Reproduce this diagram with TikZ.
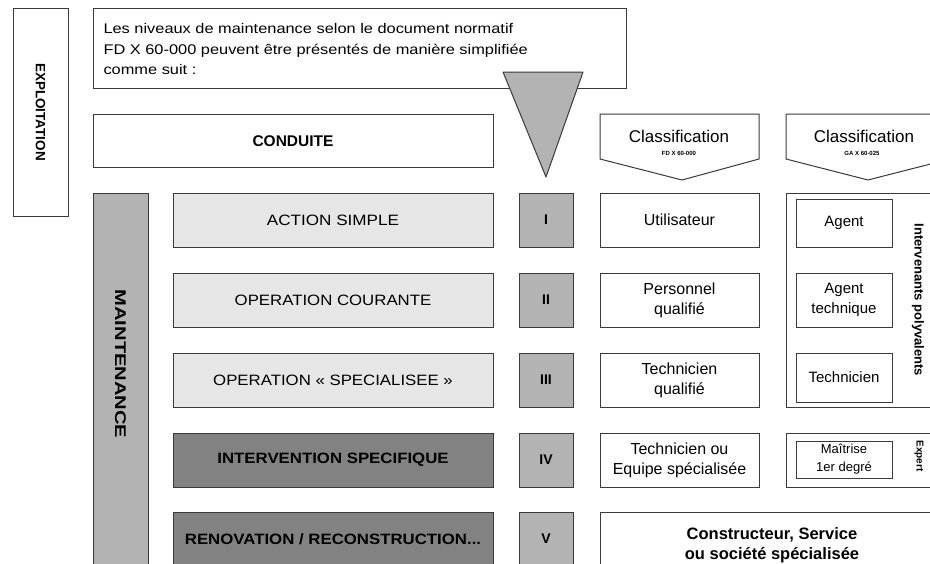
\documentclass[tikz,border=0pt]{standalone}
\usepackage{fontspec}
\setmainfont{Liberation Sans}
\usepackage{graphicx}
\definecolor{lightg}{HTML}{E6E6E6}
\definecolor{midg}{HTML}{B3B3B3}
\definecolor{darkg}{HTML}{828282}
\definecolor{edge}{HTML}{3A3A3A}
\newcommand{\fsz}[2]{\fontsize{#1}{#2}\selectfont}
\newcommand{\wid}[2]{\scalebox{#1}[1]{#2}}
\begin{document}
\begin{tikzpicture}[x=1pt,y=-1pt,
  bx/.style={draw=edge, line width=1pt, inner sep=0pt, outer sep=0pt, align=center},
  whitebox/.style={bx, fill=white},
  lightbox/.style={bx, fill=lightg},
  midbox/.style={bx, fill=midg},
  darkbox/.style={bx, fill=darkg},
  rowtext/.style={font=\fsz{15}{18}},
  rowbold/.style={font={\fsz{15}{18}\bfseries}},
  numtext/.style={font={\fsz{14}{16}\bfseries}},
  fdtext/.style={font=\fsz{16}{20}},
  gatext/.style={font=\fsz{15}{20}}
]
\useasboundingbox (0,0) rectangle (930,563);
\clip (0,0) rectangle (930,563);

% EXPLOITATION
\node[whitebox, minimum width=55pt, minimum height=208pt] (expl) at (40.5,112) {};
\node[rotate=-90, font={\fsz{13.5}{16}\bfseries}] (explt) at (40.5,112) {EXPLOITATION};

% intro text box
\node[whitebox, minimum width=533pt, minimum height=80pt] (intro) at (359.5,48) {};
\node[anchor=base west, font=\fsz{14}{20}] (l1) at (100,33) {\wid{1.17}{Les niveaux de maintenance selon le document normatif}};
\node[anchor=base west, font=\fsz{14}{20}] (l2) at (100,54) {\wid{1.17}{FD X 60-000 peuvent être présentés de manière simplifiée}};
\node[anchor=base west, font=\fsz{14}{20}] (l3) at (100,74) {\wid{1.17}{comme suit :}};

% CONDUITE
\node[whitebox, minimum width=400pt, minimum height=53pt, font={\fsz{15.5}{18}\bfseries}] (cond) at (293,141) {CONDUITE};

% funnel triangle
\draw[draw=edge, line width=1pt, fill=midg, line join=round] (503,72) -- (583,72) -- (546,177) -- cycle;

% MAINTENANCE bar
\node[midbox, minimum width=55pt, minimum height=380pt] (maint) at (120.5,383) {};
\node[rotate=-90, font={\fsz{15.5}{18}\bfseries}] (maintt) at (120.5,364) {\wid{1.3}{MAINTENANCE}};

% level rows
\node[lightbox, minimum width=320pt, minimum height=54pt, rowtext] (r1) at (333,220) {\wid{1.14}{ACTION SIMPLE}};
\node[lightbox, minimum width=320pt, minimum height=54pt, rowtext] (r2) at (333,300) {\wid{1.12}{OPERATION COURANTE}};
\node[lightbox, minimum width=320pt, minimum height=54pt, rowtext] (r3) at (333,380) {\wid{1.12}{OPERATION « SPECIALISEE »}};
\node[darkbox, minimum width=320pt, minimum height=54pt, rowbold] (r4) at (333,460) {\wid{1.12}{INTERVENTION SPECIFIQUE}};
\node[darkbox, minimum width=320pt, minimum height=54pt, rowbold] (r5) at (333,539) {\wid{1.12}{RENOVATION / RECONSTRUCTION...}};

% roman numerals
\node[midbox, minimum width=54pt, minimum height=54pt, numtext] (n1) at (546,220) {I};
\node[midbox, minimum width=54pt, minimum height=54pt, numtext] (n2) at (546,300) {II};
\node[midbox, minimum width=54pt, minimum height=54pt, numtext] (n3) at (546,380) {III};
\node[midbox, minimum width=54pt, minimum height=54pt, numtext] (n4) at (546,460) {IV};
\node[midbox, minimum width=54pt, minimum height=54pt, numtext] (n5) at (546,539) {V};

% classification headers
\draw[draw=edge, line width=1pt, fill=white, line join=round] (600,114) -- (759,114) -- (759,159) -- (682,180) -- (600,159) -- cycle;
\node[font=\fsz{17}{20}] (c1) at (679,136) {Classification};
\node[font={\fsz{6}{7}\bfseries}] (c1s) at (679,153) {FD X 60-000};
\draw[draw=edge, line width=1pt, fill=white, line join=round] (786,114) -- (950,114) -- (950,159) -- (868,180) -- (786,159) -- cycle;
\node[font=\fsz{17}{20}] (c2) at (864,136) {Classification};
\node[font={\fsz{6}{7}\bfseries}] (c2s) at (862,153) {GA X 60-025};

% FD column
\node[whitebox, minimum width=159pt, minimum height=54pt, fdtext] (f1) at (679.5,220) {Utilisateur};
\node[whitebox, minimum width=159pt, minimum height=54pt, fdtext] (f2) at (679.5,300) {Personnel\\qualifié};
\node[whitebox, minimum width=159pt, minimum height=54pt, fdtext] (f3) at (679.5,380) {Technicien\\qualifié};
\node[whitebox, minimum width=159pt, minimum height=54pt, fdtext] (f4) at (679.5,460) {Technicien ou\\Equipe spécialisée};

% GA column
\node[whitebox, minimum width=164pt, minimum height=214pt] (g1) at (868,300) {};
\node[whitebox, minimum width=96pt, minimum height=48pt, gatext] (ga1) at (844,223) {Agent};
\node[whitebox, minimum width=96pt, minimum height=54pt, gatext] (ga2) at (844,300) {Agent\\technique};
\node[whitebox, minimum width=96pt, minimum height=49pt, gatext] (ga3) at (844,377.5) {Technicien};
\node[rotate=-90, font={\fsz{13}{15}\bfseries}] (poly) at (918,300) {Intervenants polyvalents};
\node[whitebox, minimum width=164pt, minimum height=54pt] (g2) at (868,460) {};
\node[whitebox, minimum width=96pt, minimum height=37pt, font=\fsz{13}{18}] (ga4) at (844,459.5) {Maîtrise\\1er degré};
\node[rotate=-90, font={\fsz{10}{12}\bfseries}] (expert) at (919,456) {Expert};

% constructeur
\node[whitebox, minimum width=350pt, minimum height=58pt] (cons) at (775,541) {};
\node[font={\fsz{16.5}{20}\bfseries}, align=center] (const) at (772,545) {Constructeur, Service\\ou société spécialisée};
\end{tikzpicture}
\end{document}
